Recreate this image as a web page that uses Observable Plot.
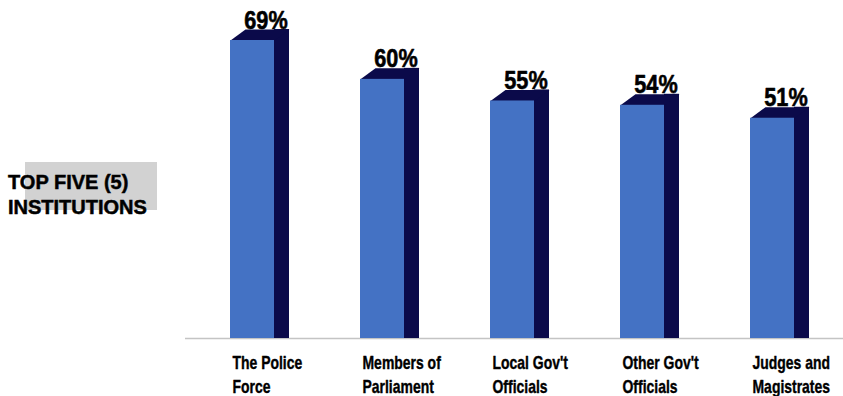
<!DOCTYPE html>
<html><head><meta charset="utf-8">
<script src="https://cdn.jsdelivr.net/npm/d3@7"></script>
<script src="https://cdn.jsdelivr.net/npm/@observablehq/plot@0.6"></script>
<style>
body{margin:0;background:#fff;}
#wrap{position:relative;width:843px;height:396px;overflow:hidden;}
#box{position:absolute;left:25px;top:162px;width:132px;height:48px;background:#d2d2d2;}
#title{position:absolute;left:8px;top:170px;font-family:"Liberation Sans",Arial,sans-serif;font-weight:bold;font-size:20px;line-height:25px;color:#000;white-space:nowrap;-webkit-text-stroke:0.5px #000;}
#chart{position:absolute;left:0;top:0;}
</style></head>
<body>
<div id="wrap"><div id="box"></div><div id="chart"></div><div id="title">TOP FIVE (5)<br>INSTITUTIONS</div></div>
<script>
const categories = ["The Police Force","Members of Parliament","Local Gov't Officials","Other Gov't Officials","Judges and Magistrates"];
const tickLabels = ["The Police\nForce","Members of\nParliament","Local Gov't\nOfficials","Other Gov't\nOfficials","Judges and\nMagistrates"];
const values = [69, 60, 55, 54, 51];
const valueLabels = ["69%","60%","55%","54%","51%"];

const data = categories.map((c, i) => ({category: c, value: values[i], tick: tickLabels[i], label: valueLabels[i]}));

const FRONT = 44, DX = 15, DY = 11;
const BLUE = "#4472c4", DARK = "#0b0a4a";
const FONT = '"Liberation Sans",Arial,sans-serif';
const topFace = {draw(ctx) {
  const h = (FRONT + DX) / 2;
  ctx.moveTo(-h, 0); ctx.lineTo(-h + DX, -DY); ctx.lineTo(h, -DY); ctx.lineTo(h - DX, 0); ctx.closePath();
}};

const chart = Plot.plot({
  width: 843, height: 396,
  marginLeft: 185, marginRight: 0, marginTop: 40, marginBottom: 58,
  x: {domain: categories, paddingInner: 0.5488, paddingOuter: 0.2906, align: 0.566, axis: null},
  y: {domain: [0, d3.max(values)], axis: null},
  style: {fontFamily: FONT, background: "transparent", color: "#000"},
  marks: [
    Plot.ruleY([0], {stroke: "#c4c4c4", strokeWidth: 1.5}),
    Plot.barY(data, {x: "category", y: "value", fill: DARK, insetLeft: FRONT, insetTop: -DY}),
    Plot.dot(data, {x: "category", y: "value", symbol: topFace, fill: DARK, stroke: "none"}),
    Plot.barY(data, {x: "category", y: "value", fill: BLUE, insetRight: DX}),
    Plot.text(data, {x: "category", y: "value", text: "label", dx: 6, dy: -12, lineAnchor: "bottom", fontSize: 25.5, fontWeight: "bold", fill: "#000", stroke: "#000", strokeWidth: 0.6}),
    Plot.text(data, {x: "category", y: () => 0, text: "tick", textAnchor: "start", dx: -(FRONT + DX) / 2 + 2, dy: 13.5, lineAnchor: "top", lineHeight: 1.29, fontSize: 18.6, fontWeight: "bold", fill: "#000", stroke: "#000", strokeWidth: 0.4})
  ]
});
// horizontally condense the text glyphs (narrow font look)
const textGroups = chart.querySelectorAll('g[aria-label="text"]');
const squeeze = [0.85, 0.75];
textGroups.forEach((g, k) => {
  g.querySelectorAll("text").forEach(t => {
    const tr = t.getAttribute("transform") || "";
    t.setAttribute("transform", tr + ` scale(${squeeze[k]},1)`);
  });
});
document.getElementById("chart").appendChild(chart);
</script>
</body></html>
